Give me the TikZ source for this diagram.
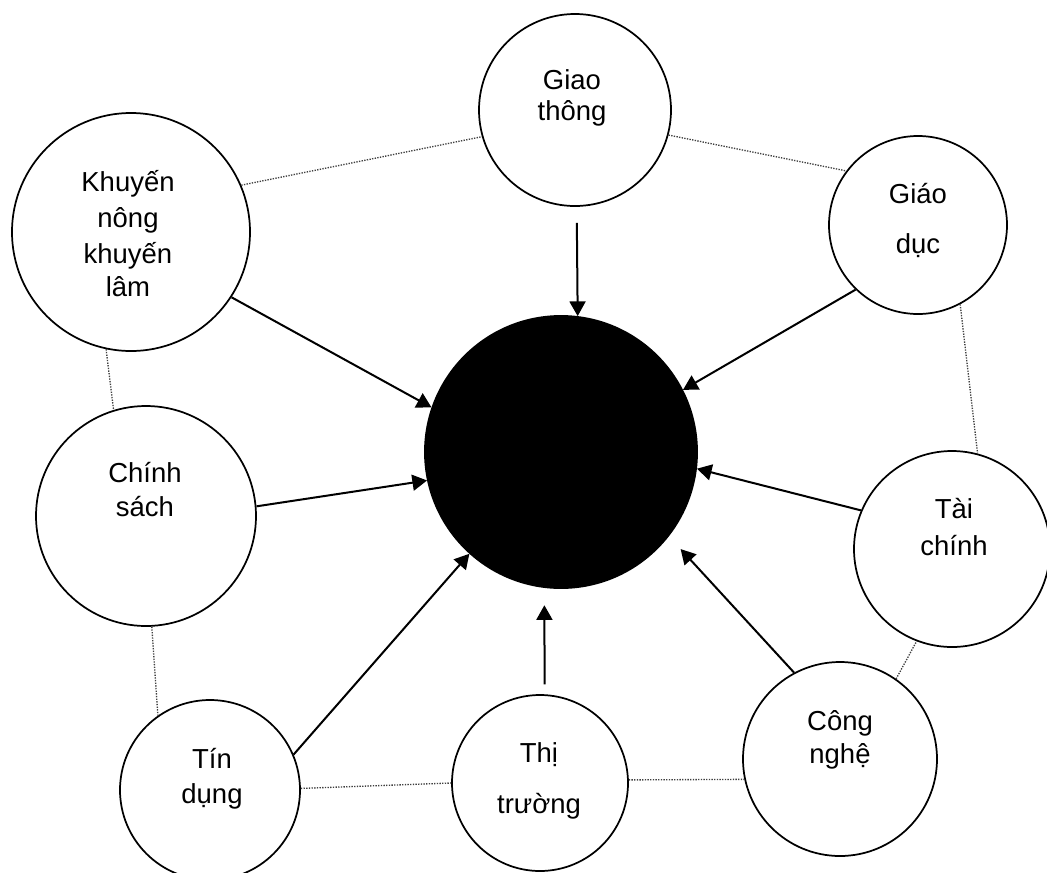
\documentclass[tikz,border=0pt]{standalone}
\usepackage{fontspec}
\setmainfont{Liberation Sans}
\usetikzlibrary{arrows.meta}
\begin{document}
\begin{tikzpicture}[x=0.75pt, y=-0.75pt,
  bubble/.style={circle, draw=black, line width=1.3pt, fill=white, minimum size=#1, inner sep=0pt},
  hub/.style={circle, draw=black, line width=1.4pt, fill=black, minimum size=#1, inner sep=0pt},
  lbl/.style={anchor=base, inner sep=0pt, font=\fontsize{20.6}{24}\selectfont},
  feed/.style={line width=1.5pt, -{Triangle[length=11pt,width=12pt]}},
  ring/.style={densely dotted, line width=1pt, black!75}]
\fill[white] (0,0) rectangle (1047,872);
\useasboundingbox (0,0) rectangle (1047,872);

% circles
\node[hub=204pt]    (cen)   at (561,452) {};
\node[bubble=144pt] (giao)  at (575,110) {};
\node[bubble=178.5pt] (khuy) at (131,232) {};
\node[bubble=133.5pt] (giaod) at (918,225) {};
\node[bubble=165pt] (chinh) at (146,516) {};
\node[bubble=147pt] (taic)  at (952,549) {};
\node[bubble=135pt] (tind)  at (210,790) {};
\node[bubble=132pt] (thit)  at (540,783) {};
\node[bubble=145.5pt] (congn) at (840,759) {};

% labels
\node[lbl] (giao-1) at (572,89) {Giao};
\node[lbl] (giao-2) at (572,120) {thông};
\node[lbl] (khuy-1) at (128,191) {Khuyến};
\node[lbl] (khuy-2) at (128,227) {nông};
\node[lbl] (khuy-3) at (128,263) {khuyến};
\node[lbl] (khuy-4) at (128,296) {lâm};
\node[lbl] (giaod-1) at (918,203) {Giáo};
\node[lbl] (giaod-2) at (918,253) {dục};
\node[lbl] (chinh-1) at (145,482) {Chính};
\node[lbl] (chinh-2) at (145,516) {sách};
\node[lbl] (taic-1) at (954,518) {Tài};
\node[lbl] (taic-2) at (954,555) {chính};
\node[lbl] (tind-1) at (212,768) {Tín};
\node[lbl] (tind-2) at (212,803) {dụng};
\node[lbl] (thit-1) at (539,762) {Thị};
\node[lbl] (thit-2) at (539,813) {trường};
\node[lbl] (congn-1) at (840,730) {Công};
\node[lbl] (congn-2) at (840,763) {nghệ};

% dotted ring between the outer circles
\draw[ring] (khuy.23) -- (giao.-164);
\draw[ring] (giao.-15) -- (giaod.143);
\draw[ring] (giaod.-62) -- (taic.75);
\draw[ring] (khuy.-102) -- (chinh.107);
\draw[ring] (chinh.-87) -- (tind.125);
\draw[ring] (tind.1) -- (thit.180);
\draw[ring] (thit.2) -- (congn.-168);
\draw[ring] (congn.55) -- (taic.-111);

% arrows into the hub
\draw[feed, shorten <=12pt] (giao.-89) -- (cen.83);
\draw[feed] (khuy.-33) -- (cen.161);
\draw[feed] (giaod.-134) -- (cen.27);
\draw[feed] (chinh.5) -- (cen.-168);
\draw[feed] (taic.157) -- (cen.-7);
\draw[feed] (tind.23) -- (cen.-132);
\draw[feed, shorten <=7.5pt, shorten >=13pt] (thit.87) -- (cen.-97);
\draw[feed, shorten >=13pt] (congn.118) -- (cen.-38);
\end{tikzpicture}
\end{document}
